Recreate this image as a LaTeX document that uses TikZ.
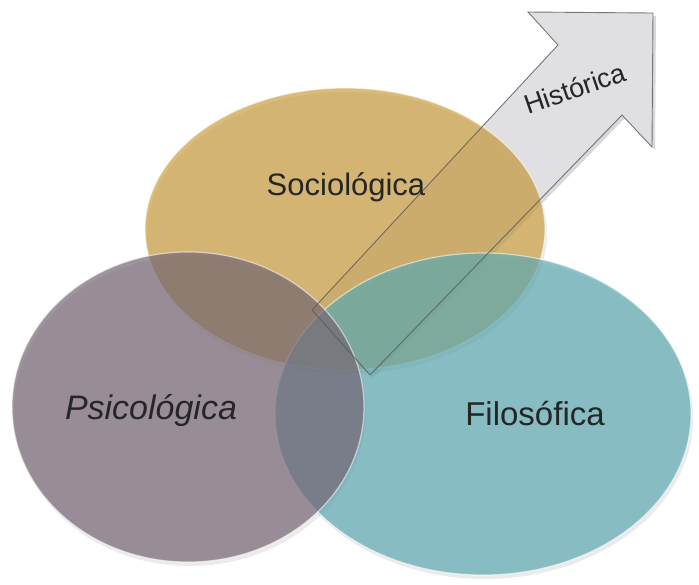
\documentclass[tikz,border=0pt]{standalone}
\usepackage{fontspec}
\setmainfont{Liberation Sans}
\definecolor{socio}{RGB}{202,158,65}
\definecolor{psico}{RGB}{117,102,115}
\definecolor{filo}{RGB}{91,169,177}
\definecolor{setafundo}{RGB}{224,224,228}
\begin{document}
\begin{tikzpicture}[x=1pt,y=-1pt,
    circulo/.style={fill opacity=0.7, draw=white, draw opacity=0.55, line width=1.2pt},
    sombra/.style={fill=black, opacity=0.08},
    rotulo/.style={font=\fontsize{33}{38}\selectfont, text=black!85}]
  \useasboundingbox (0,0) rectangle (699,584);

  % seta (fundo)
  \fill[black, opacity=0.15] (315,313) -- (561,48) -- (531,15) -- (656,16) -- (655,150) -- (625,118) -- (373,378) -- cycle;
  \fill[setafundo] (312,310) -- (558,45) -- (528,12) -- (653,13) -- (652,147) -- (622,115) -- (370,375) -- cycle;

  % sombras
  \fill[sombra] (485,418) ellipse [x radius=208, y radius=161];
  \fill[sombra] (347,233) ellipse [x radius=200, y radius=141];
  \fill[sombra] (190,411) ellipse [x radius=176, y radius=155];

  % conjuntos
  \filldraw[circulo, fill=socio] (345,229) ellipse [x radius=200, y radius=141];
  \filldraw[circulo, fill=filo] (483,414) ellipse [x radius=208, y radius=161];
  \filldraw[circulo, fill=psico] (188,407) ellipse [x radius=176, y radius=155];

  % seta (contorno)
  \draw[black!65, draw opacity=0.8, line width=0.9pt, line join=miter]
    (312,310) -- (558,45) -- (528,12) -- (653,13) -- (652,147) -- (622,115) -- (370,375) -- cycle;

  \node[rotulo, font=\fontsize{31}{36}\selectfont] (soc) at (346,187) {Sociológica};
  \node[rotulo, font=\fontsize{34}{38}\selectfont\itshape] (psi) at (151,411) {Psicológica};
  \node[rotulo] (fil) at (535,414) {Filosófica};
  \node[rotulo, font=\fontsize{27}{30}\selectfont, rotate=19] (his) at (575,88) {Histórica};
\end{tikzpicture}
\end{document}
